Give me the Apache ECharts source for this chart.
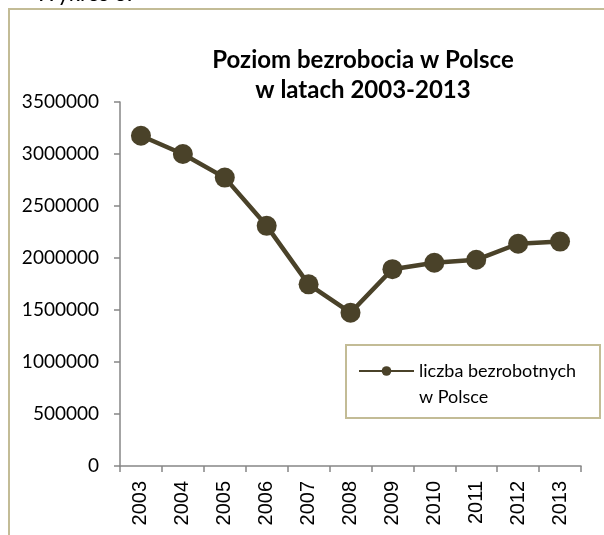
<!DOCTYPE html>
<html>
<head>
<meta charset="utf-8">
<script src="https://cdn.jsdelivr.net/npm/echarts@6/dist/echarts.min.js"></script>
<style>
  html, body { margin: 0; padding: 0; background: #fff; }
  #chart { width: 604px; height: 535px; }
</style>
</head>
<body>
<div id="chart"></div>
<script>
  // dane: liczba bezrobotnych w Polsce
  const years = ['2003', '2004', '2005', '2006', '2007', '2008', '2009', '2010', '2011', '2012', '2013']
  const unemployed = [3175700, 2999600, 2773000, 2309400, 1746600, 1473800, 1892700, 1954700, 1982700, 2136800, 2157900]
  const seriesName = 'liczba bezrobotnych w Polsce'

  const lineColor = '#4a4229'
  const axisColor = '#868686'
  const frameColor = '#c3bc96'

  const myChart = echarts.init(document.getElementById('chart'))
  myChart.setOption({
    animation: false,
    title: {
      text: 'Poziom bezrobocia w Polsce\nw latach 2003-2013',
      left: 358,
      textAlign: 'center',
      top: 40,
      textStyle: {
        fontFamily: 'Lato',
        fontWeight: 'bold',
        fontSize: 24,
        lineHeight: 30,
        color: '#000'
      }
    },
    graphic: [
      // ramka wykresu
      {
        type: 'rect',
        shape: { x: 9, y: 9, width: 640, height: 600 },
        style: { fill: 'none', stroke: frameColor, lineWidth: 2 },
        silent: true
      },
      // ramka legendy
      {
        type: 'rect',
        shape: { x: 346, y: 345, width: 254, height: 73 },
        style: { fill: 'none', stroke: frameColor, lineWidth: 2 },
        silent: true
      },
      {
        type: 'text',
        x: 35,
        y: 5,
        style: {
          text: 'Wykres 3.',
          font: '22px Lato',
          fill: '#000',
          verticalAlign: 'bottom'
        }
      }
    ],
    legend: {
      left: 358,
      top: 332,
      padding: 0,
      itemWidth: 55,
      itemHeight: 12,
      textStyle: {
        fontFamily: 'Lato',
        fontSize: 18,
        lineHeight: 26,
        color: '#000'
      },
      // pusta pierwsza linia, żeby znacznik stał przy pierwszej linii tekstu
      formatter: () => '\nliczba bezrobotnych\nw Polsce',
      data: [seriesName]
    },
    grid: {
      left: 120,
      right: 23,
      top: 102,
      bottom: 69,
      containLabel: false
    },
    xAxis: {
      type: 'category',
      data: years,
      boundaryGap: true,
      axisLine: { lineStyle: { color: axisColor, width: 1.5 } },
      axisTick: { show: true, length: 6, lineStyle: { color: axisColor, width: 1.5 } },
      axisLabel: {
        rotate: 90,
        margin: 15,
        interval: 0,
        fontFamily: 'Liberation Sans',
        fontSize: 20,
        color: '#000'
      }
    },
    yAxis: {
      type: 'value',
      min: 0,
      max: 3500000,
      interval: 500000,
      splitLine: { show: false },
      axisLine: { show: true, lineStyle: { color: axisColor, width: 1.5 } },
      axisTick: { show: true, length: 6, lineStyle: { color: axisColor, width: 1.5 } },
      axisLabel: {
        margin: 21,
        fontFamily: 'Lato',
        fontSize: 19,
        color: '#000',
        formatter: v => String(v)
      }
    },
    series: [
      {
        name: seriesName,
        type: 'line',
        data: unemployed,
        symbol: 'circle',
        symbolSize: 20,
        lineStyle: { color: lineColor, width: 4.5 },
        itemStyle: { color: lineColor }
      }
    ]
  })
</script>
</body>
</html>
